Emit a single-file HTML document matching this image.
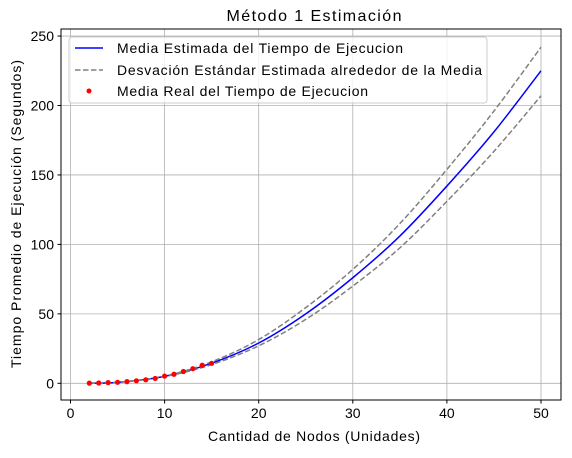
<!DOCTYPE html>
<html><head><meta charset="utf-8"><style>
body{margin:0;background:#fff;font-family:"Liberation Sans","DejaVu Sans",sans-serif}
svg text{font-family:"Liberation Sans","DejaVu Sans",sans-serif;fill:#000}
</style></head><body>
<svg id="chart" width="572" height="453" xmlns="http://www.w3.org/2000/svg">
<text x="314" y="21" font-size="16" text-anchor="middle" textLength="175">Método 1 Estimación</text>
<g id="grid"></g>
<g id="series"></g>
<rect x="61" y="29" width="500" height="371" fill="none" stroke="#000" stroke-width="1"/>
<g id="ticks"></g>
<text x="314" y="441" font-size="14" text-anchor="middle" textLength="212">Cantidad de Nodos (Unidades)</text>
<text transform="translate(21,214) rotate(-90)" font-size="14" text-anchor="middle" textLength="308">Tiempo Promedio de Ejecución (Segundos)</text>
<g>
<rect x="69" y="37" width="418" height="66" fill="#fff" fill-opacity="0.8" stroke="#ccc" rx="3"/>
<g><line x1="75" y1="48" x2="103" y2="48" stroke="#0000ff" stroke-width="1.5"/><text x="117" y="53" font-size="14" textLength="286">Media Estimada del Tiempo de Ejecucion</text></g>
<g><line x1="75" y1="70" x2="103" y2="70" stroke="#808080" stroke-width="1.5" stroke-dasharray="5.5,2.5"/><text x="117" y="75" font-size="14" textLength="365">Desvación Estándar Estimada alrededor de la Media</text></g>
<g><circle cx="89" cy="91" r="2.5" fill="#ff0000"/><text x="117" y="96" font-size="14" textLength="251">Media Real del Tiempo de Ejecucion</text></g>
</g>
</svg>
<script>
const xVals=[2,5,10,15,20,25,30,35,40,45,50];
const meanVals=[0.1,0.7,5,14.5,29,50,76,106,142,181,225];
const upperVals=[0.1,0.7,5.2,15.5,31.5,54.5,82,115,154,196,242];
const lowerVals=[0.1,0.7,4.8,13.5,27,46,70,97.5,131,167,207];
const realX=[2,3,4,5,6,7,8,9,10,11,12,13,14,15];
const realY=[0.1,0.2,0.5,0.7,1.2,1.8,2.5,3.5,5.2,6.5,8.5,10.5,13,14.4];
const xTicks=[0,10,20,30,40,50];
const yTicks=[0,50,100,150,200,250];
const NS="http://www.w3.org/2000/svg";
function sx(v){return 70.5+v*9.41;}
function sy(v){return 383.3-v*1.389;}
function mk(t,a,p){const e=document.createElementNS(NS,t);for(const k in a)e.setAttribute(k,a[k]);p.appendChild(e);return e;}
const grid=document.getElementById('grid'),ticks=document.getElementById('ticks'),ser=document.getElementById('series');
xTicks.forEach(t=>{
const g=mk('line',{x1:sx(t),x2:sx(t),y1:29,y2:400,stroke:'#b0b0b0','stroke-width':0.8},grid);


mk('line',{x1:sx(t),x2:sx(t),y1:400,y2:403.5,stroke:'#000'},ticks);
const l=mk('text',{x:sx(t),y:418,'font-size':14,'text-anchor':'middle'},ticks);l.textContent=t;


});
yTicks.forEach(t=>{
const g=mk('line',{x1:61,x2:561,y1:sy(t),y2:sy(t),stroke:'#b0b0b0','stroke-width':0.8},grid);


mk('line',{x1:57.5,x2:61,y1:sy(t),y2:sy(t),stroke:'#000'},ticks);
const l=mk('text',{x:54,y:sy(t)+5,'font-size':14,'text-anchor':'end'},ticks);l.textContent=t;


});
function smooth(xs,ys){
const p=xs.map((x,i)=>[sx(x),sy(ys[i])]);let d='M'+p[0][0]+','+p[0][1];
for(let i=0;i<p.length-1;i++){const p0=p[i-1]||p[i],p1=p[i],p2=p[i+1],p3=p[i+2]||p2;
d+=' C'+(p1[0]+(p2[0]-p0[0])/6)+','+(p1[1]+(p2[1]-p0[1])/6)+' '+(p2[0]-(p3[0]-p1[0])/6)+','+(p2[1]-(p3[1]-p1[1])/6)+' '+p2[0]+','+p2[1];}
return d;}
const m=mk('path',{d:smooth(xVals,meanVals),fill:'none',stroke:'#0000ff','stroke-width':1.5},ser);


const u=mk('path',{d:smooth(xVals,upperVals),fill:'none',stroke:'#808080','stroke-width':1.5,'stroke-dasharray':'5.5,2.5'},ser);


const lo=mk('path',{d:smooth(xVals,lowerVals),fill:'none',stroke:'#808080','stroke-width':1.5,'stroke-dasharray':'5.5,2.5'},ser);


realX.forEach((x,i)=>{
const c=mk('circle',{cx:sx(x),cy:sy(realY[i]),r:2.6,fill:'#ff0000'},ser);


});
</script>
</body></html>
